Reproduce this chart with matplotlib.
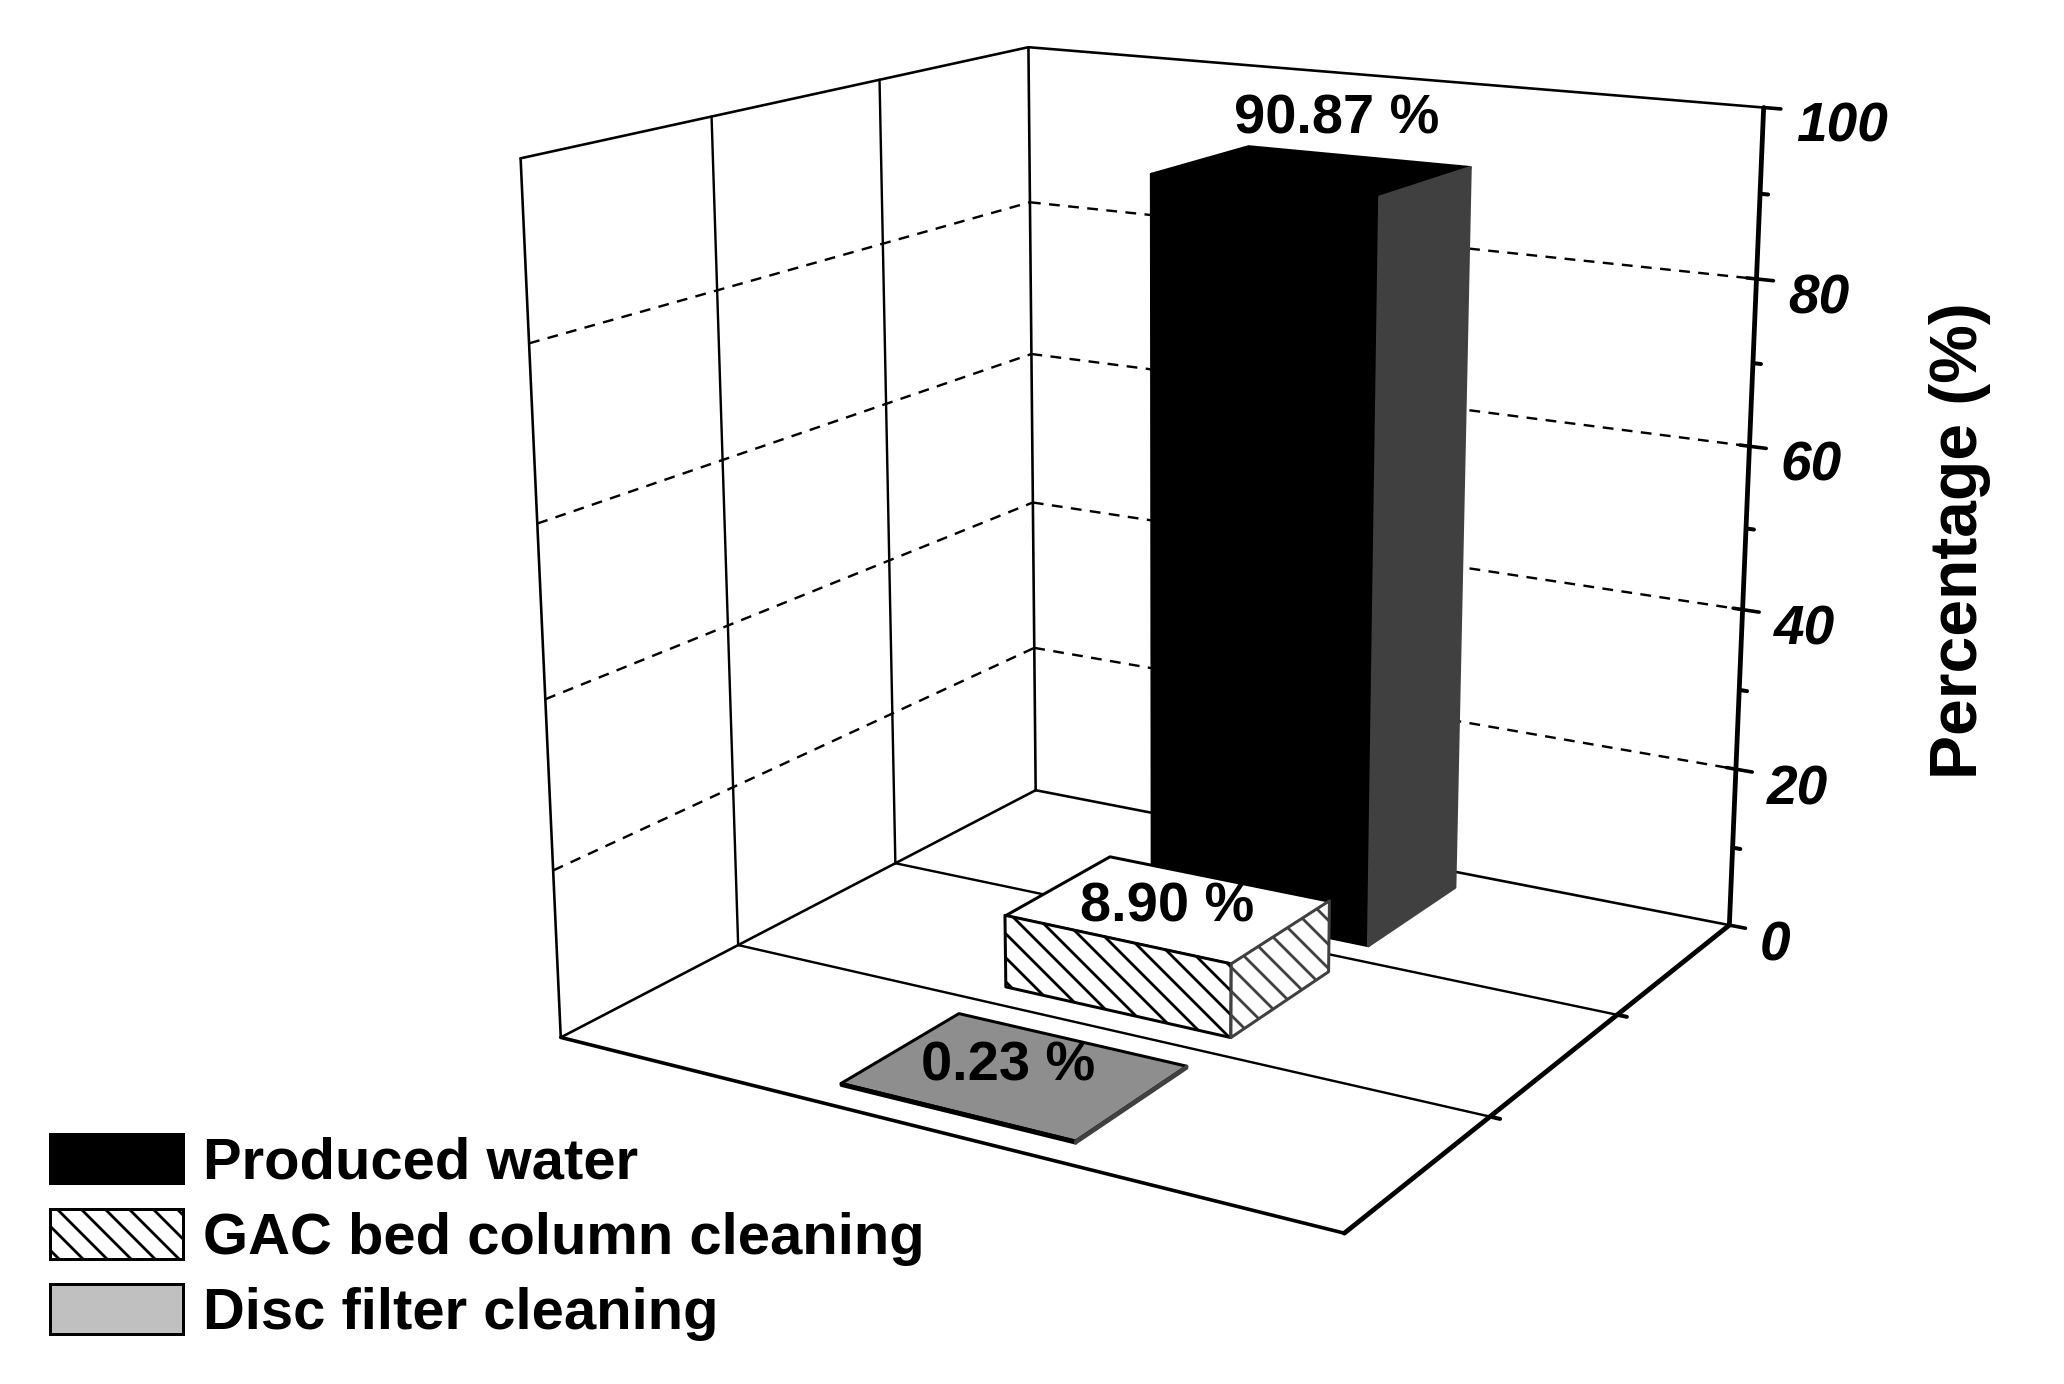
import numpy as np
import matplotlib
matplotlib.use('Agg')
import matplotlib.pyplot as plt
from matplotlib.patches import Patch
from mpl_toolkits.mplot3d import proj3d
from mpl_toolkits.mplot3d.art3d import Poly3DCollection

plt.rcParams['font.family'] = ['Liberation Sans', 'DejaVu Sans']
plt.rcParams['font.weight'] = 'bold'
plt.rcParams['hatch.linewidth'] = 1.4

# data
series = ['Produced water', 'GAC bed column cleaning', 'Disc filter cleaning']
values = [90.87, 8.90, 0.23]
value_labels = ['90.87 %', '8.90 %', '0.23 %']
rows = [2.5, 1.5, 0.5]
z_major = [0, 20, 40, 60, 80, 100]
z_minor = [10, 30, 50, 70, 90]
z_grid = [20, 40, 60, 80]
row_edges = [1, 2]

dpi = 144
fig = plt.figure(figsize=(2064/dpi, 1384/dpi), dpi=dpi)
ax = fig.add_axes([0, 0, 1, 1], projection='3d')
ax.set_xlim(0, 1, view_margin=0)
ax.set_ylim(0, 3, view_margin=0)
ax.set_zlim(0, 100, view_margin=0)
ax.set_autoscale_on(False)
ax.set_axis_off()
ax.computed_zorder = False

# camera fitted against the corners of the original box
ax.view_init(elev=15.54, azim=-59.51, roll=0)
ax.set_proj_type('persp', focal_length=0.3426)
ax.set_box_aspect((1, 1, 1), zoom=0.7157)
scale = 2064/ax.viewLim.width
left = 1167.3 + ax.viewLim.x0*scale
bottom = (1384 - 568.55) + ax.viewLim.y0*scale
ax.set_position([left/2064, bottom/1384, 1, 2064/1384])
M = ax.get_proj()


def line(xs, ys, zs, lw=1.3, ls='-', zo=1):
    ax.plot(xs, ys, zs, color='k', lw=lw, ls=ls, zorder=zo, clip_on=False,
            solid_capstyle='round')


def label(x, y, z, s, **kw):
    # text sits in the 2D plane of the axes, at the projected point
    u, v, _ = proj3d.proj_transform(x, y, z, M)
    ax.text2D(u, v, s, **kw)


# walls
line([0, 0], [0, 0], [0, 100])
line([0, 0], [3, 3], [0, 100])
line([0, 0], [0, 3], [100, 100])
line([0, 1], [3, 3], [100, 100])
line([0, 0], [0, 3], [0, 0])
line([0, 1], [3, 3], [0, 0])
for y in row_edges:
    line([0, 0], [y, y], [0, 100], 1.2)
    line([0, 1], [y, y], [0, 0], 1.2)
    line([1, 1.012], [y, y], [0, 0], 2.0, zo=5)
for z in z_grid:
    line([0, 0], [0, 3], [z, z], 1.2, (0, (4.5, 3.5)))
    line([0, 1], [3, 3], [z, z], 1.2, (0, (4.5, 3.5)))

# front edges and value axis
line([0, 1], [0, 0], [0, 0], 1.8, zo=5)
line([1, 1], [0, 3], [0, 0], 2.4, zo=5)
line([1, 1], [3, 3], [0, 100], 2.4, zo=5)
for z in z_major:
    line([0.988 if 0 < z < 100 else 1, 1.021], [3, 3], [z, z], 1.8, zo=5)
    label(1.04, 3, z - 2.0, str(z), ha='left', va='center', fontsize=27.5,
          style='italic', zorder=8)
for z in z_minor:
    line([1, 1.01], [3, 3], [z, z], 2.0, zo=5)


def bar(y, h, top, front, side, hatch, zo, edge='k'):
    x0, x1 = 0.35, 0.652
    y0, y1 = y - 0.35, y + 0.35
    faces = [([(x0, y0, h), (x1, y0, h), (x1, y1, h), (x0, y1, h)], top, edge, None),
             ([(x0, y0, 0), (x1, y0, 0), (x1, y0, h), (x0, y0, h)], front, edge, hatch),
             ([(x1, y0, 0), (x1, y1, 0), (x1, y1, h), (x1, y0, h)], side, '#404040', hatch)]
    for i, (verts, fc, ec, ht) in enumerate(faces):
        ax.add_collection3d(Poly3DCollection([verts], facecolors=fc, edgecolors=ec,
                                             linewidths=1.5, hatch=ht, zorder=zo + i*0.1))


bar(rows[0], values[0], 'k', 'k', '#404040', None, 2)
bar(rows[1], values[1], 'w', 'w', 'w', '\\\\', 3)
bar(rows[2], values[2], '#8e8e8e', '#8e8e8e', '#8e8e8e', None, 4)

label(0.535, rows[0], values[0] + 6.3, value_labels[0], ha='center', va='center', fontsize=28, zorder=9)
label(0.5, rows[1], values[1] + 0.1, value_labels[1], ha='center', va='center', fontsize=28, zorder=9)
label(0.493, rows[2], values[2] + 0.8, value_labels[2], ha='center', va='center', fontsize=28, zorder=9)

fig.text(1960/2064, 1 - 541/1384, 'Percentage (%)', rotation=90, ha='center', va='center', fontsize=33)

handles = [Patch(facecolor='k', edgecolor='k', lw=1.5),
           Patch(facecolor='w', edgecolor='k', lw=1.5, hatch='\\\\'),
           Patch(facecolor='#c0c0c0', edgecolor='k', lw=1.5)]
fig.legend(handles, series, loc='lower left', bbox_to_anchor=(50/2064, 1 - 1341/1384),
           frameon=False, fontsize=29, borderpad=0, borderaxespad=0, handlelength=2.3,
           handleheight=0.93, labelspacing=0.32, handletextpad=0.34)

fig.savefig('out.png', dpi=dpi)
